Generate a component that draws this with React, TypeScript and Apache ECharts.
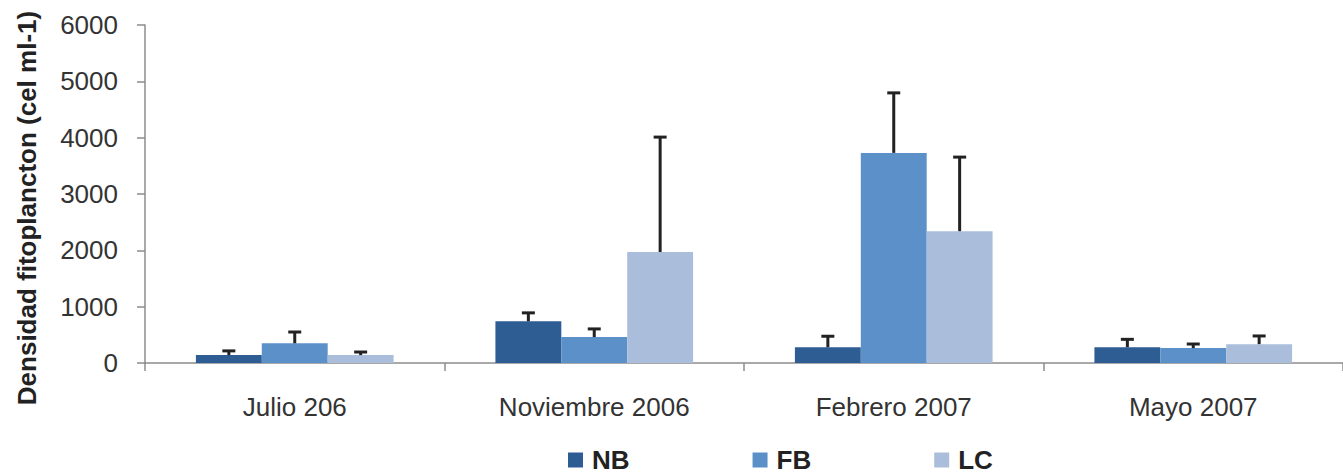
import React, { useEffect, useRef } from "react";
import * as echarts from "echarts";

const categories = ["Julio 206", "Noviembre 2006", "Febrero 2007", "Mayo 2007"];
const seriesNames = ["NB", "FB", "LC"];
const nbValues = [140, 740, 280, 280];
const fbValues = [350, 460, 3730, 265];
const lcValues = [140, 1970, 2340, 335];
const nbErrors = [75, 150, 195, 140];
const fbErrors = [200, 145, 1065, 72];
const lcErrors = [55, 2040, 1315, 145];
const yTicks = [0, 1000, 2000, 3000, 4000, 5000, 6000];
const colors = ["#2E5D94", "#5B91C8", "#AABEDB"];

const FONT = "'Liberation Sans', Arial, sans-serif";
const BAR_FRAC = 0.22;

export default function App() {
  const ref = useRef<HTMLDivElement>(null);
  useEffect(() => {
    if (!ref.current) return;
    const chart = echarts.init(ref.current, undefined, { renderer: "svg" });
    const values = [nbValues, fbValues, lcValues];
    const errors = [nbErrors, fbErrors, lcErrors];

    const barSeries = seriesNames.map((name, i) => ({
      name,
      type: "bar",
      data: values[i],
      barWidth: BAR_FRAC * 100 + "%",
      barGap: "0%",
      itemStyle: { color: colors[i] },
      z: 2,
    }));

    const errSeries = seriesNames.map((name, i) => ({
      name: name + "-err",
      type: "custom",
      z: 5,
      data: values[i].map((v, k) => [k, v, v + errors[i][k]]),
      renderItem: (params: any, api: any) => {
        const cat = api.value(0);
        const bw = api.size([1, 0])[0] * BAR_FRAC;
        const off = (i - 1) * bw;
        const base = api.coord([cat, api.value(1)]);
        const top = api.coord([cat, api.value(2)]);
        const x = base[0] + off;
        const style = { stroke: "#222222", lineWidth: 3 };
        return {
          type: "group",
          children: [
            { type: "line", shape: { x1: x, y1: base[1], x2: x, y2: top[1] }, style },
            { type: "line", shape: { x1: x - 6.5, y1: top[1], x2: x + 6.5, y2: top[1] }, style },
          ],
        };
      },
    }));

    chart.setOption({
      animation: false,
      textStyle: { fontFamily: FONT },
      grid: { left: 145, right: 0, top: 25, bottom: 112, containLabel: false },
      legend: {
        data: seriesNames,
        left: 568,
        top: 446,
        padding: 0,
        icon: "rect",
        itemWidth: 15,
        itemHeight: 15,
        itemGap: 123,
        textStyle: {
          fontFamily: FONT,
          fontSize: 26,
          lineHeight: 28,
          fontWeight: "bold",
          color: "#222222",
          padding: [0, 0, 0, 4],
        },
      },
      xAxis: {
        type: "category",
        data: categories,
        axisLine: { lineStyle: { color: "#8c8c8c", width: 1.5 } },
        axisTick: { show: true, length: 8, lineStyle: { color: "#8c8c8c", width: 1.5 } },
        axisLabel: { color: "#333333", fontSize: 26, fontFamily: FONT, margin: 31 },
      },
      yAxis: {
        type: "value",
        min: yTicks[0],
        max: yTicks[yTicks.length - 1],
        interval: 1000,
        splitLine: { show: false },
        axisLine: { show: true, lineStyle: { color: "#8c8c8c", width: 1.5 } },
        axisTick: { show: true, length: 8, lineStyle: { color: "#8c8c8c", width: 1.5 } },
        axisLabel: {
          color: "#333333",
          fontSize: 26,
          fontFamily: FONT,
          margin: 27,
          formatter: (v: number) => String(v),
        },
      },
      graphic: [
        {
          type: "text",
          x: 27,
          y: 208,
          rotation: Math.PI / 2,
          style: {
            text: "Densidad fitoplancton (cel ml-1)",
            font: "bold 26px " + FONT,
            fill: "#222222",
            align: "center",
            verticalAlign: "middle",
          },
        },
      ],
      series: [...barSeries, ...errSeries],
    });
    return () => chart.dispose();
  }, []);
  return (
    <div
      ref={ref}
      style={{ position: "fixed", left: 0, top: 0, width: 1343, height: 475, background: "#fff" }}
    />
  );
}
